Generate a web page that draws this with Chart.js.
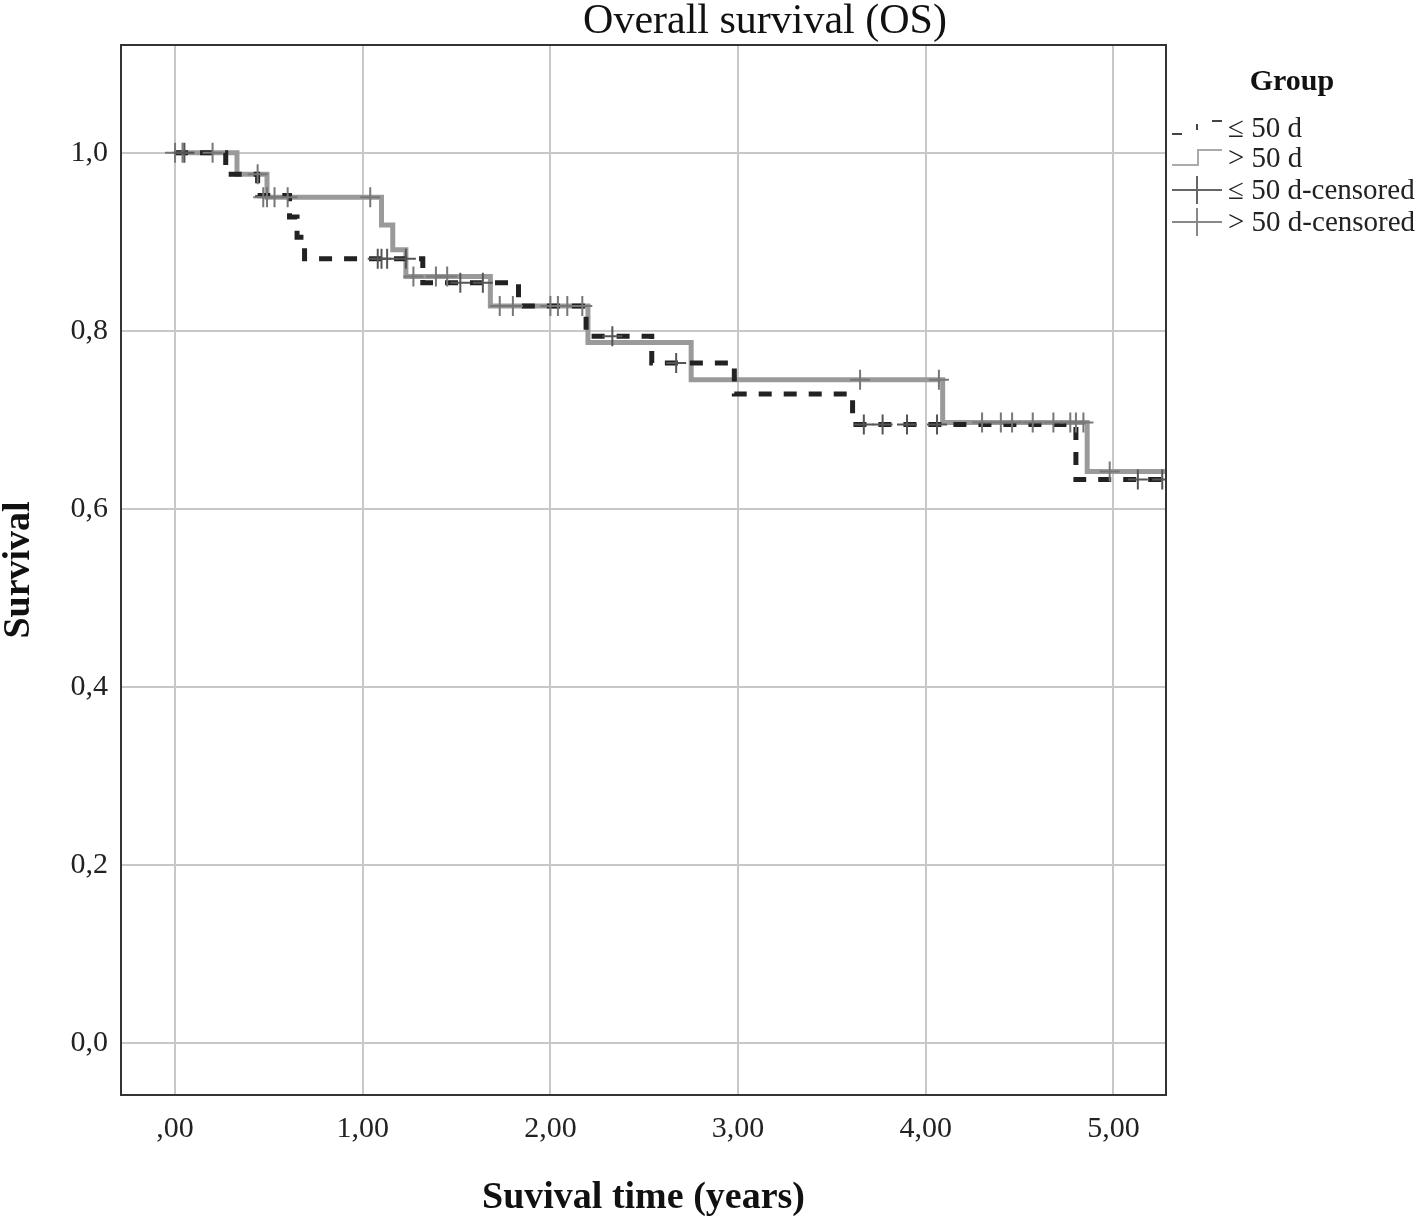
<!DOCTYPE html>
<html lang="en">
<head>
    <meta charset="UTF-8">
    <title>Overall survival (OS)</title>
    <script src="https://cdn.jsdelivr.net/npm/chart.js"></script>
    <style>
        html, body { margin: 0; padding: 0; background: #fff; }
        #wrap { width: 1418px; height: 1219px; }
    </style>
</head>
<body>
    <div id="wrap"><canvas id="chartCanvas" width="1418" height="1219"></canvas></div>

    <script>
        // Kaplan-Meier steps (time in years, survival)
        const lowTimes  = [0, 0.27, 0.44, 0.61, 0.65, 0.69, 1.32, 1.83, 2.19, 2.54, 2.98, 3.61, 4.80, 5.28];
        const lowSurv   = [1.0, 0.976, 0.952, 0.928, 0.905, 0.881, 0.854, 0.828, 0.794, 0.764, 0.729, 0.695, 0.633, 0.633];
        const highTimes = [0, 0.33, 0.49, 1.10, 1.16, 1.23, 1.68, 2.20, 2.75, 4.09, 4.86, 5.28];
        const highSurv  = [1.0, 0.976, 0.950, 0.919, 0.891, 0.861, 0.828, 0.787, 0.745, 0.697, 0.642, 0.642];

        // censored observations
        const lowCensTimes = [0.05, 1.08, 1.10, 1.13, 1.23, 1.52, 1.64, 2.33, 2.67, 3.67, 3.77, 3.90, 4.06, 5.13, 5.26];
        const lowCensSurv  = [1.0, 0.881, 0.881, 0.881, 0.881, 0.854, 0.854, 0.794, 0.764, 0.695, 0.695, 0.695, 0.695, 0.633, 0.633];
        const highCensTimes = [0, 0.04, 0.20, 0.44, 0.47, 0.49, 0.53, 0.60, 1.04, 1.27, 1.39, 1.45, 1.73, 1.80, 2.00, 2.04, 2.09, 2.17,
                               3.65, 4.07, 4.30, 4.40, 4.46, 4.57, 4.68, 4.77, 4.80, 4.84, 4.98];
        const highCensSurv  = [1.0, 1.0, 1.0, 0.976, 0.950, 0.950, 0.950, 0.950, 0.950, 0.861, 0.861, 0.861, 0.828, 0.828, 0.828, 0.828, 0.828, 0.828,
                               0.745, 0.745, 0.697, 0.697, 0.697, 0.697, 0.697, 0.697, 0.697, 0.697, 0.642];

        const xTicks = [0, 1, 2, 3, 4, 5];
        const xTickLabels = [",00", "1,00", "2,00", "3,00", "4,00", "5,00"];
        const yTicks = [0, 0.2, 0.4, 0.6, 0.8, 1.0];
        const yTickLabels = ["0,0", "0,2", "0,4", "0,6", "0,8", "1,0"];

        const legendItems = ["\u2264 50 d", "> 50 d", "\u2264 50 d-censored", "> 50 d-censored"];

        const pts = (xs, ys) => xs.map((x, i) => ({ x: x, y: ys[i] }));
        const serif = "'Liberation Serif', 'Times New Roman', serif";

        // frame, axis titles, title and legend
        const decor = {
            id: "decor",
            afterDraw(chart) {
                const ctx = chart.ctx;
                const a = chart.chartArea;
                ctx.save();
                ctx.strokeStyle = "#333";
                ctx.lineWidth = 2;
                ctx.strokeRect(a.left, a.top, a.right - a.left, a.bottom - a.top);

                ctx.fillStyle = "#111";
                ctx.textAlign = "center";
                ctx.textBaseline = "alphabetic";
                ctx.font = "42px " + serif;
                ctx.fillText("Overall survival (OS)", 765, 33);

                ctx.font = "bold 38px " + serif;
                ctx.fillText("Suvival time (years)", (a.left + a.right) / 2, 1208);

                ctx.save();
                ctx.translate(29, (a.top + a.bottom) / 2);
                ctx.rotate(-Math.PI / 2);
                ctx.fillText("Survival", 0, 0);
                ctx.restore();

                // legend
                ctx.font = "bold 30px " + serif;
                ctx.fillText("Group", 1292, 90);
                ctx.textAlign = "left";
                ctx.font = "29px " + serif;
                const rows = [128, 158, 190, 222];
                rows.forEach((ry, i) => {
                    ctx.fillStyle = "#222";
                    ctx.fillText(legendItems[i], 1228, ry + 9);
                });
                // dashed step
                ctx.strokeStyle = "#444";
                ctx.lineWidth = 2;
                ctx.beginPath();
                ctx.moveTo(1172, 134); ctx.lineTo(1182, 134);
                ctx.moveTo(1197, 124); ctx.lineTo(1197, 130);
                ctx.moveTo(1212, 121); ctx.lineTo(1222, 121);
                ctx.stroke();
                // solid step
                ctx.strokeStyle = "#aaa";
                ctx.beginPath();
                ctx.moveTo(1172, 165); ctx.lineTo(1198, 165); ctx.lineTo(1198, 150); ctx.lineTo(1222, 150);
                ctx.stroke();
                // censored marks
                [["#666", 190], ["#888", 222]].forEach(([c, ry]) => {
                    ctx.strokeStyle = c;
                    ctx.beginPath();
                    ctx.moveTo(1172, ry); ctx.lineTo(1222, ry);
                    ctx.moveTo(1197, ry - 14); ctx.lineTo(1197, ry + 14);
                    ctx.stroke();
                });
                ctx.restore();
            }
        };

        new Chart(document.getElementById("chartCanvas"), {
            type: "scatter",
            data: {
                datasets: [
                    {
                        label: legendItems[2],
                        data: pts(lowCensTimes, lowCensSurv),
                        pointStyle: "cross",
                        pointRadius: 10,
                        borderColor: "#555",
                        borderWidth: 2,
                        showLine: false,
                        order: 0
                    },
                    {
                        label: legendItems[3],
                        data: pts(highCensTimes, highCensSurv),
                        pointStyle: "cross",
                        pointRadius: 10,
                        borderColor: "#777",
                        borderWidth: 2,
                        showLine: false,
                        order: 1
                    },
                    {
                        label: legendItems[0],
                        data: pts(lowTimes, lowSurv),
                        showLine: true,
                        stepped: "before",
                        borderColor: "#222",
                        borderWidth: 5,
                        borderDash: [13, 12],
                        pointRadius: 0,
                        fill: false,
                        order: 2
                    },
                    {
                        label: legendItems[1],
                        data: pts(highTimes, highSurv),
                        showLine: true,
                        stepped: "before",
                        borderColor: "#9a9a9a",
                        borderWidth: 5,
                        pointRadius: 0,
                        fill: false,
                        order: 3
                    }
                ]
            },
            options: {
                responsive: false,
                animation: false,
                layout: { padding: { left: 0, top: 45, right: 252, bottom: 0 } },
                plugins: {
                    legend: { display: false },
                    tooltip: { enabled: false }
                },
                scales: {
                    x: {
                        type: "linear",
                        min: -0.288,
                        max: 5.28,
                        afterBuildTicks: s => { s.ticks = xTicks.map(v => ({ value: v })); },
                        afterFit: s => { s.height = 124; },
                        grid: { color: "#c8c8c8", lineWidth: 2, drawTicks: false },
                        border: { display: false },
                        ticks: {
                            padding: 16,
                            color: "#222",
                            font: { family: serif, size: 30 },
                            callback: (v, i) => xTickLabels[i]
                        }
                    },
                    y: {
                        type: "linear",
                        min: -0.058,
                        max: 1.121,
                        afterBuildTicks: s => { s.ticks = yTicks.map(v => ({ value: v })); },
                        afterFit: s => { s.width = 121; },
                        grid: { color: "#c8c8c8", lineWidth: 2, drawTicks: false },
                        border: { display: false },
                        ticks: {
                            padding: 13,
                            color: "#222",
                            font: { family: serif, size: 30 },
                            callback: (v, i) => yTickLabels[i]
                        }
                    }
                }
            },
            plugins: [decor]
        });
    </script>
</body>
</html>
